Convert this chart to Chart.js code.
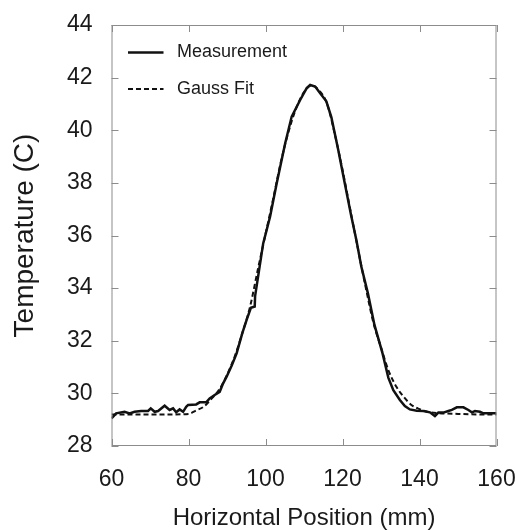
<!DOCTYPE html>
<html>
<head>
<meta charset="utf-8">
<script src="https://cdn.jsdelivr.net/npm/chart.js@4.4.1/dist/chart.umd.min.js"></script>
<style>
  html, body { margin: 0; padding: 0; background: #fff; }
</style>
</head>
<body>
<canvas id="tempChart" width="515" height="530"></canvas>
<script>
// measured profile (mm, C)
const measX = [60, 61.2, 63.4, 64.7, 66, 67.7, 69.5, 70.2, 71.2, 72.1, 73.8, 75.1, 76, 76.8, 77.7, 78.6, 79.4, 79.9,
  82.0, 82.9, 84.6, 85.5, 86.8, 88.1, 89.0, 89.9, 91.2, 92.5, 94.0, 95.1, 96.2, 97.2, 97.3, 99.4,
  101.2, 102.9, 105.1, 106.8, 109.0, 110.7, 111.6, 112.9, 114.2, 115.8, 117.1, 118.9, 120.6, 122.3,
  123.6, 124.9, 126.6, 128.3, 130.4, 131.9, 133.2, 134.9, 136.2, 137.5, 139.3, 141.0, 142.7, 144.0,
  144.9, 146.2, 147.5, 148.4, 149.7, 151.4, 152.7, 153.6, 154.4, 155.7, 156.6, 158.3, 160];
const measY = [29.05, 29.24, 29.3, 29.24, 29.3, 29.33, 29.33, 29.43, 29.3, 29.33, 29.53, 29.37, 29.43, 29.28, 29.39, 29.3, 29.49, 29.56,
  29.58, 29.66, 29.66, 29.81, 29.94, 30.06, 30.38, 30.63, 31.05, 31.52, 32.3, 32.79, 33.25, 33.3, 33.7, 35.7,
  36.72, 37.98, 39.5, 40.52, 41.15, 41.6, 41.72, 41.66, 41.41, 41.1, 40.5, 39.25, 37.98, 36.72,
  35.83, 34.81, 33.8, 32.6, 31.52, 30.6, 30.12, 29.75, 29.52, 29.39, 29.34, 29.33, 29.28, 29.14,
  29.27, 29.27, 29.33, 29.37, 29.47, 29.47, 29.37, 29.28, 29.33, 29.3, 29.24, 29.24, 29.24];

// gauss fit (mm, C)
const fitX = [60, 65, 70, 75, 80, 82, 84, 86, 88, 90, 92, 94, 96, 98, 100, 102, 104, 106, 108, 110, 112,
  114, 116, 118, 120, 122, 124, 126, 128, 130, 132, 134, 136, 138, 140, 142, 145, 150, 155, 160];
const fitY = [29.2, 29.2, 29.2, 29.2, 29.22, 29.35, 29.5, 29.8, 30.15, 30.7, 31.4, 32.3, 33.3, 34.7, 36.05, 37.4, 38.8, 39.95, 40.85, 41.45, 41.7,
  41.5, 41.0, 39.85, 38.5, 37.0, 35.5, 34.05, 32.7, 31.75, 30.85, 30.25, 29.85, 29.55, 29.4, 29.3, 29.25, 29.22, 29.2, 29.2];

const xTicks = [60, 80, 100, 120, 140, 160];
const yTicks = [28, 30, 32, 34, 36, 38, 40, 42, 44];

const FONT = 'Liberation Sans, Arial, Helvetica, sans-serif';
const frameColor = '#8c8c8c';

function toPoints(xs, ys) {
  return xs.map((x, i) => ({ x, y: ys[i] }));
}

// frame + inward tick marks on all four sides
const framePlugin = {
  id: 'frame',
  afterDraw(chart) {
    const { ctx, chartArea: a, scales } = chart;
    const len = 7;
    ctx.save();
    ctx.strokeStyle = frameColor;
    ctx.lineWidth = 1;
    ctx.strokeRect(a.left + 0.5, a.top + 0.5, a.right - a.left - 1, a.bottom - a.top - 1);
    ctx.beginPath();
    xTicks.forEach(v => {
      const px = Math.round(scales.x.getPixelForValue(v)) + 0.5;
      ctx.moveTo(px, a.bottom); ctx.lineTo(px, a.bottom - len);
      ctx.moveTo(px, a.top); ctx.lineTo(px, a.top + len);
    });
    yTicks.forEach(v => {
      const py = Math.round(scales.y.getPixelForValue(v)) + 0.5;
      ctx.moveTo(a.left, py); ctx.lineTo(a.left + len, py);
      ctx.moveTo(a.right, py); ctx.lineTo(a.right - len, py);
    });
    ctx.stroke();
    ctx.restore();
  }
};

// legend drawn inside the plot, top left
const innerLegend = {
  id: 'innerLegend',
  afterDraw(chart) {
    const { ctx, chartArea: a } = chart;
    ctx.save();
    ctx.font = '18px ' + FONT;
    ctx.fillStyle = '#1a1a1a';
    ctx.textBaseline = 'middle';
    chart.data.datasets.forEach((ds, i) => {
      const y = a.top + 27.5 + i * 36.5;
      ctx.strokeStyle = ds.borderColor;
      ctx.lineWidth = ds.borderWidth;
      ctx.setLineDash(ds.borderDash || []);
      ctx.beginPath();
      ctx.moveTo(a.left + 16.5, y);
      ctx.lineTo(a.left + 52, y);
      ctx.stroke();
      ctx.fillText(ds.label, a.left + 65.5, y);
    });
    ctx.restore();
  }
};

new Chart(document.getElementById('tempChart'), {
  type: 'line',
  data: {
    datasets: [
      {
        label: 'Measurement',
        data: toPoints(measX, measY),
        borderColor: '#111',
        borderWidth: 2.5,
        pointRadius: 0,
        tension: 0
      },
      {
        label: 'Gauss Fit',
        data: toPoints(fitX, fitY),
        borderColor: '#111',
        borderWidth: 2,
        borderDash: [5, 3],
        pointRadius: 0,
        cubicInterpolationMode: 'monotone'
      }
    ]
  },
  options: {
    responsive: false,
    animation: false,
    layout: { padding: { top: 25, right: 18.5, left: 0, bottom: 0 } },
    plugins: {
      legend: { display: false },
      tooltip: { enabled: false }
    },
    scales: {
      x: {
        type: 'linear',
        min: 60, max: 160,
        afterFit: s => { s.height = 84; s.paddingLeft = 0; s.paddingRight = 0; },
        afterBuildTicks: s => { s.ticks = xTicks.map(v => ({ value: v })); },
        grid: { display: false, drawTicks: false },
        border: { display: false },
        ticks: { padding: 20, color: '#1a1a1a', font: { family: FONT, size: 23 } },
        title: {
          display: true,
          text: 'Horizontal Position (mm)',
          color: '#1a1a1a',
          padding: { top: 0, bottom: 0 },
          font: { family: FONT, size: 24, lineHeight: 1 }
        }
      },
      y: {
        min: 28, max: 44,
        afterFit: s => { s.width = 111.5; s.paddingTop = 0; s.paddingBottom = 0; },
        afterBuildTicks: s => { s.ticks = yTicks.map(v => ({ value: v })); },
        grid: { display: false, drawTicks: false },
        border: { display: false },
        ticks: { padding: 19, color: '#1a1a1a', font: { family: FONT, size: 23 } },
        title: {
          display: true,
          text: 'Temperature (C)',
          color: '#1a1a1a',
          padding: { top: 11, bottom: 0 },
          font: { family: FONT, size: 28, lineHeight: 1 }
        }
      }
    }
  },
  plugins: [framePlugin, innerLegend]
});
</script>
</body>
</html>
